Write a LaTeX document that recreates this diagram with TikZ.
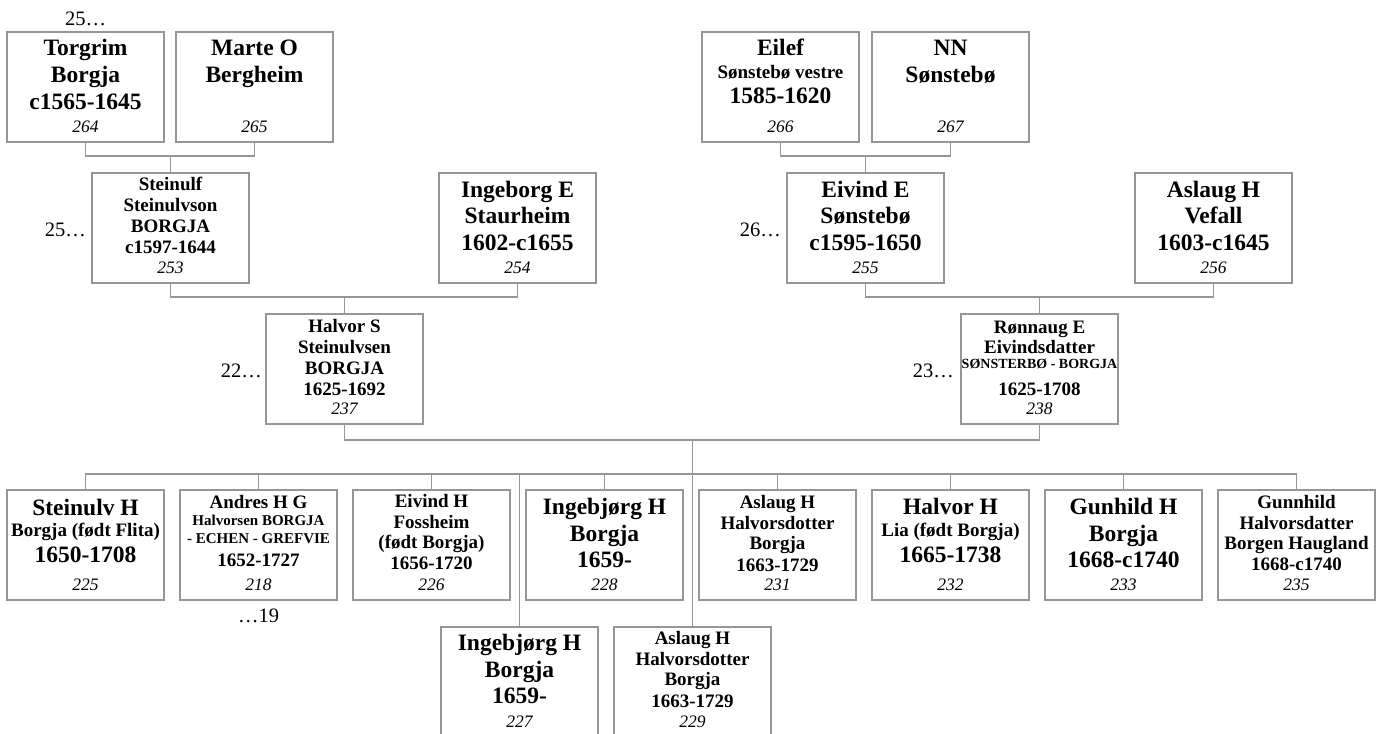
\documentclass[tikz,border=0pt]{standalone}
\usepackage{fontspec}
\setmainfont{Liberation Serif}
\definecolor{lc}{RGB}{150,150,150}
\tikzset{
 pbox/.style={draw=lc, line width=1.2pt, minimum width=157pt, minimum height=110pt, inner sep=0pt, outer sep=0pt},
 conn/.style={draw=lc, line width=1.2pt},
 fbig/.style={font=\fontsize{23.5}{28}\selectfont\bfseries},
 fmid/.style={font=\fontsize{19}{23}\selectfont\bfseries},
 fsml/.style={font=\fontsize{15}{18}\selectfont\bfseries},
 ftny/.style={font=\fontsize{14}{16}\selectfont\bfseries},
 fnum/.style={font=\fontsize{17.5}{20}\selectfont\itshape},
 fgen/.style={font=\fontsize{20.5}{24}\selectfont},
 txt/.style={anchor=base, inner sep=0pt},
}
\newcommand\tx[5]{\node[txt,#4] (#1#2) at ([yshift=-#3pt]#1.north) {#5};}
\newcommand\nm[2]{\node[txt,fnum] (#1n) at ([yshift=10pt]#1.south) {#2};}
\begin{document}
\begin{tikzpicture}[x=1pt,y=-1pt]
\useasboundingbox (0,0) rectangle (1388,733);
% ---------- boxes ----------
% row 1
\node[pbox] (p264) at (85.5,87) {};
\node[pbox] (p265) at (254.5,87) {};
\node[pbox] (p266) at (780.5,87) {};
\node[pbox] (p267) at (950.5,87) {};
% row 2
\node[pbox] (p253) at (170.5,228) {};
\node[pbox] (p254) at (517.5,228) {};
\node[pbox] (p255) at (865.5,228) {};
\node[pbox] (p256) at (1213.5,228) {};
% row 3
\node[pbox] (p237) at (344.5,369) {};
\node[pbox] (p238) at (1039.5,369) {};
% row 4
\node[pbox] (p225) at (85.5,545) {};
\node[pbox] (p218) at (258.5,545) {};
\node[pbox] (p226) at (431.5,545) {};
\node[pbox] (p228) at (604.5,545) {};
\node[pbox] (p231) at (777.5,545) {};
\node[pbox] (p232) at (950.5,545) {};
\node[pbox] (p233) at (1123.5,545) {};
\node[pbox] (p235) at (1296.5,545) {};
% row 5
\node[pbox] (p227) at (519.5,682) {};
\node[pbox] (p229) at (692.5,682) {};
% ---------- connectors ----------
\coordinate (f1) at (170.5,156);
\coordinate (f2) at (865.5,156);
\coordinate (f3) at (344.5,297);
\coordinate (f4) at (1039.5,297);
\coordinate (f5) at (692.5,440);
\coordinate (bus) at (692.5,474);
\draw[conn] (p264.south) |- (f1) -| (p265.south);
\draw[conn] (f1) -- (p253.north);
\draw[conn] (p266.south) |- (f2) -| (p267.south);
\draw[conn] (f2) -- (p255.north);
\draw[conn] (p253.south) |- (f3) -| (p254.south);
\draw[conn] (f3) -- (p237.north);
\draw[conn] (p255.south) |- (f4) -| (p256.south);
\draw[conn] (f4) -- (p238.north);
\draw[conn] (p237.south) |- (f5) -| (p238.south);
\draw[conn] (f5) -- (p229.north);
\draw[conn] (p225.north) |- (bus) -| (p235.north);
\foreach \c in {p218,p226,p228,p231,p232,p233,p227}
  \draw[conn] (\c.north) -- (\c.north |- bus);
% ---------- texts ----------
\tx{p264}{a}{24}{fbig}{Torgrim}
\tx{p264}{b}{50.7}{fbig}{Borgja}
\tx{p264}{c}{77.3}{fbig}{c1565-1645}
\nm{p264}{264}
\tx{p265}{a}{24}{fbig}{Marte O}
\tx{p265}{b}{50.7}{fbig}{Bergheim}
\nm{p265}{265}
\tx{p266}{a}{24}{fbig}{Eilef}
\tx{p266}{b}{46.3}{fmid}{Sønstebø vestre}
\tx{p266}{c}{71.3}{fbig}{1585-1620}
\nm{p266}{266}
\tx{p267}{a}{24}{fbig}{NN}
\tx{p267}{b}{50.7}{fbig}{Sønstebø}
\nm{p267}{267}
%
\tx{p253}{a}{17.5}{fmid}{Steinulf}
\tx{p253}{b}{38}{fmid}{Steinulvson}
\tx{p253}{c}{59}{fmid}{BORGJA}
\tx{p253}{d}{80}{fmid}{c1597-1644}
\nm{p253}{253}
\tx{p254}{a}{24}{fbig}{Ingeborg E}
\tx{p254}{b}{50.5}{fbig}{Staurheim}
\tx{p254}{c}{77}{fbig}{1602-c1655}
\nm{p254}{254}
\tx{p255}{a}{24}{fbig}{Eivind E}
\tx{p255}{b}{50.5}{fbig}{Sønstebø}
\tx{p255}{c}{77}{fbig}{c1595-1650}
\nm{p255}{255}
\tx{p256}{a}{24}{fbig}{Aslaug H}
\tx{p256}{b}{50.5}{fbig}{Vefall}
\tx{p256}{c}{77}{fbig}{1603-c1645}
\nm{p256}{256}
%
\tx{p237}{a}{18.3}{fmid}{Halvor S}
\tx{p237}{b}{39.3}{fmid}{Steinulvsen}
\tx{p237}{c}{60}{fmid}{BORGJA}
\tx{p237}{d}{81}{fmid}{1625-1692}
\nm{p237}{237}
\tx{p238}{a}{19}{fmid}{Rønnaug E}
\tx{p238}{b}{39.7}{fmid}{Eivindsdatter}
\tx{p238}{c}{54}{ftny}{SØNSTERBØ - BORGJA}
\tx{p238}{d}{81.3}{fmid}{1625-1708}
\nm{p238}{238}
%
\tx{p225}{a}{25}{fbig}{Steinulv H}
\tx{p225}{b}{46}{fmid}{Borgja (født Flita)}
\tx{p225}{c}{72.7}{fbig}{1650-1708}
\nm{p225}{225}
\tx{p218}{a}{18.3}{fmid}{Andres H G}
\tx{p218}{b}{35}{fsml}{Halvorsen BORGJA}
\tx{p218}{c}{53.3}{fsml}{- ECHEN - GREFVIE}
\tx{p218}{d}{76}{fmid}{1652-1727}
\nm{p218}{218}
\tx{p226}{a}{17.7}{fmid}{Eivind H}
\tx{p226}{b}{38.3}{fmid}{Fossheim}
\tx{p226}{c}{58.3}{fmid}{(født Borgja)}
\tx{p226}{d}{79.3}{fmid}{1656-1720}
\nm{p226}{226}
\tx{p228}{a}{24.3}{fbig}{Ingebjørg H}
\tx{p228}{b}{51}{fbig}{Borgja}
\tx{p228}{c}{77.3}{fbig}{1659-}
\nm{p228}{228}
\tx{p231}{a}{18.3}{fmid}{Aslaug H}
\tx{p231}{b}{39}{fmid}{Halvorsdotter}
\tx{p231}{c}{59.5}{fmid}{Borgja}
\tx{p231}{d}{81}{fmid}{1663-1729}
\nm{p231}{231}
\tx{p232}{a}{24.3}{fbig}{Halvor H}
\tx{p232}{b}{46}{fmid}{Lia (født Borgja)}
\tx{p232}{c}{72.7}{fbig}{1665-1738}
\nm{p232}{232}
\tx{p233}{a}{24.3}{fbig}{Gunhild H}
\tx{p233}{b}{51}{fbig}{Borgja}
\tx{p233}{c}{77.3}{fbig}{1668-c1740}
\nm{p233}{233}
\tx{p235}{a}{18.3}{fmid}{Gunnhild}
\tx{p235}{b}{39}{fmid}{Halvorsdatter}
\tx{p235}{c}{59.5}{fmid}{Borgen Haugland}
\tx{p235}{d}{80.7}{fmid}{1668-c1740}
\nm{p235}{235}
%
\tx{p227}{a}{23.5}{fbig}{Ingebjørg H}
\tx{p227}{b}{50}{fbig}{Borgja}
\tx{p227}{c}{76.5}{fbig}{1659-}
\nm{p227}{227}
\tx{p229}{a}{17.5}{fmid}{Aslaug H}
\tx{p229}{b}{38.3}{fmid}{Halvorsdotter}
\tx{p229}{c}{58.5}{fmid}{Borgja}
\tx{p229}{d}{80}{fmid}{1663-1729}
\nm{p229}{229}
% ---------- generation labels ----------
\node[txt,fgen] (g1) at ([yshift=6pt]p264.north) {25…};
\node[txt,fgen,anchor=base east] (g2) at ([xshift=-6pt,yshift=-63.7pt]p253.north west) {25…};
\node[txt,fgen,anchor=base east] (g3) at ([xshift=-6pt,yshift=-63.7pt]p255.north west) {26…};
\node[txt,fgen,anchor=base east] (g4) at ([xshift=-4pt,yshift=-63.7pt]p237.north west) {22…};
\node[txt,fgen,anchor=base east] (g5) at ([xshift=-7pt,yshift=-63.7pt]p238.north west) {23…};
\node[txt,fgen] (g6) at ([yshift=-22.7pt]p218.south) {…19};
\end{tikzpicture}
\end{document}
